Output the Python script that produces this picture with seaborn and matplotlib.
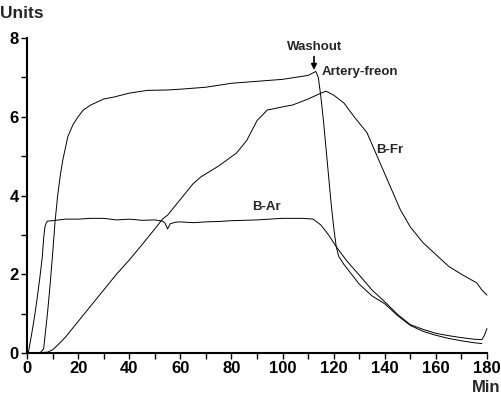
import matplotlib
matplotlib.use("Agg")
import matplotlib.pyplot as plt
import seaborn as sns
import pandas as pd

# ---- data ----
ar_t = [0, 0.5, 1.2, 2, 3, 4, 5, 6, 6.5, 7, 7.5, 8, 10, 15, 20, 25, 30, 35, 40, 45, 50, 53, 54,
        55, 56, 58, 60, 65, 70, 75, 80, 85, 90, 95, 100, 105, 108, 112, 115, 118, 121, 125, 130,
        135, 140, 145, 150, 155, 160, 165, 170, 175, 178, 179, 180]
ar_y = [0, 0, 0.25, 0.55, 0.95, 1.4, 1.9, 2.45, 2.9, 3.2, 3.3, 3.35, 3.36, 3.4, 3.4, 3.42, 3.42,
        3.38, 3.4, 3.37, 3.38, 3.35, 3.3, 3.15, 3.28, 3.32, 3.33, 3.31, 3.33, 3.34, 3.36, 3.37,
        3.38, 3.4, 3.42, 3.42, 3.42, 3.4, 3.25, 3.0, 2.7, 2.35, 1.98, 1.6, 1.3, 0.98, 0.72, 0.6,
        0.5, 0.44, 0.39, 0.35, 0.34, 0.45, 0.62]

af_t = [0, 5, 6.5, 7, 8, 9, 10, 11, 12, 13, 14, 15, 16, 18, 20, 22, 25, 30, 34, 40, 47, 55, 60,
        70, 80, 90, 100, 105, 110, 113, 114, 115, 116, 117, 118, 119, 120, 121, 122, 124, 127,
        130, 135, 140, 145, 150, 155, 160, 165, 170, 175, 178]
af_y = [0, 0, 0.1, 0.4, 1.0, 1.7, 2.5, 3.35, 4.0, 4.5, 4.9, 5.2, 5.5, 5.8, 6.0, 6.17, 6.3, 6.45,
        6.5, 6.6, 6.67, 6.68, 6.7, 6.75, 6.85, 6.9, 6.95, 7.0, 7.05, 7.15, 7.0, 6.5, 5.9, 5.2,
        4.5, 3.8, 3.2, 2.7, 2.45, 2.25, 2.0, 1.75, 1.45, 1.25, 0.95, 0.7, 0.55, 0.45, 0.37,
        0.31, 0.26, 0.24]

fr_t = [0, 8, 10, 12, 15, 20, 25, 30, 35, 40, 45, 50, 53, 55, 60, 65, 68, 75, 82, 86, 90, 94,
        100, 104, 110, 115, 117, 120, 124, 128, 133, 137, 141, 146, 150, 155, 160, 165, 170,
        176, 178, 180]
fr_y = [0, 0.02, 0.08, 0.2, 0.4, 0.8, 1.2, 1.6, 2.0, 2.36, 2.75, 3.15, 3.4, 3.5, 3.9, 4.3,
        4.47, 4.75, 5.08, 5.4, 5.9, 6.17, 6.25, 6.3, 6.45, 6.6, 6.65, 6.55, 6.35, 6.0, 5.6,
        5.0, 4.4, 3.65, 3.2, 2.8, 2.5, 2.2, 2.0, 1.78, 1.6, 1.47]

x_ticks = [0, 20, 40, 60, 80, 100, 120, 140, 160, 180]
y_ticks = [0, 2, 4, 6, 8]

series = {"B-Ar": (ar_t, ar_y), "Artery-freon": (af_t, af_y), "B-Fr": (fr_t, fr_y)}
df = pd.concat([pd.DataFrame({"Min": t, "Units": y, "series": name})
                for name, (t, y) in series.items()], ignore_index=True)

sns.set_style("ticks")
plt.rcParams['font.family'] = ['Liberation Sans', 'DejaVu Sans']
plt.rcParams['font.weight'] = 'bold'

fig = plt.figure(figsize=(5.01, 4.0), dpi=100)
ax = fig.add_axes([27 / 501, 47 / 400, 460 / 501, 315 / 400])

sns.lineplot(data=df, x="Min", y="Units", hue="series", units="series", estimator=None,
             palette={k: "black" for k in series}, linewidth=0.7, legend=False, ax=ax,
             sort=False)
for ln in ax.lines:
    ln.set_clip_on(False)

ax.set_xlim(0, 180)
ax.set_ylim(0, 8)
ax.set_xticks(x_ticks)
ax.set_xticks(range(0, 181, 10), minor=True)
ax.set_yticks(y_ticks)
ax.set_yticks(range(0, 9), minor=True)
ax.set_xticklabels([str(v) for v in x_ticks], fontsize=12, fontweight='bold')
ax.set_yticklabels([str(v) for v in y_ticks], fontsize=12, fontweight='bold')
ax.tick_params(which='both', direction='out', length=4, width=1.0, colors='black', pad=2)
ax.set_xlabel("")
ax.set_ylabel("")
sns.despine(ax=ax)
for s in ("left", "bottom"):
    ax.spines[s].set_linewidth(1.5)
    ax.spines[s].set_color("black")

fig.text(0.0, 0.9675, "Units", fontsize=12.5, fontweight='bold', va='center', ha='left')
fig.text(0.998, 0.03, "Min", fontsize=12, fontweight='bold', va='center', ha='right')

ax.annotate("", xy=(112.3, 7.12), xytext=(112.3, 7.6),
            arrowprops=dict(arrowstyle="-|>", color="black", lw=1.2, mutation_scale=8))
ax.text(112.7, 7.77, "Washout", fontsize=9.5, fontweight='bold', ha='center', va='center')
ax.text(115.5, 7.13, "Artery-freon", fontsize=9.5, fontweight='bold', ha='left', va='center')
ax.text(136.5, 5.15, "B-Fr", fontsize=9.5, fontweight='bold', ha='left', va='center')
ax.text(88, 3.7, "B-Ar", fontsize=9.5, fontweight='bold', ha='left', va='center')

fig.savefig("out.png", dpi=100)
